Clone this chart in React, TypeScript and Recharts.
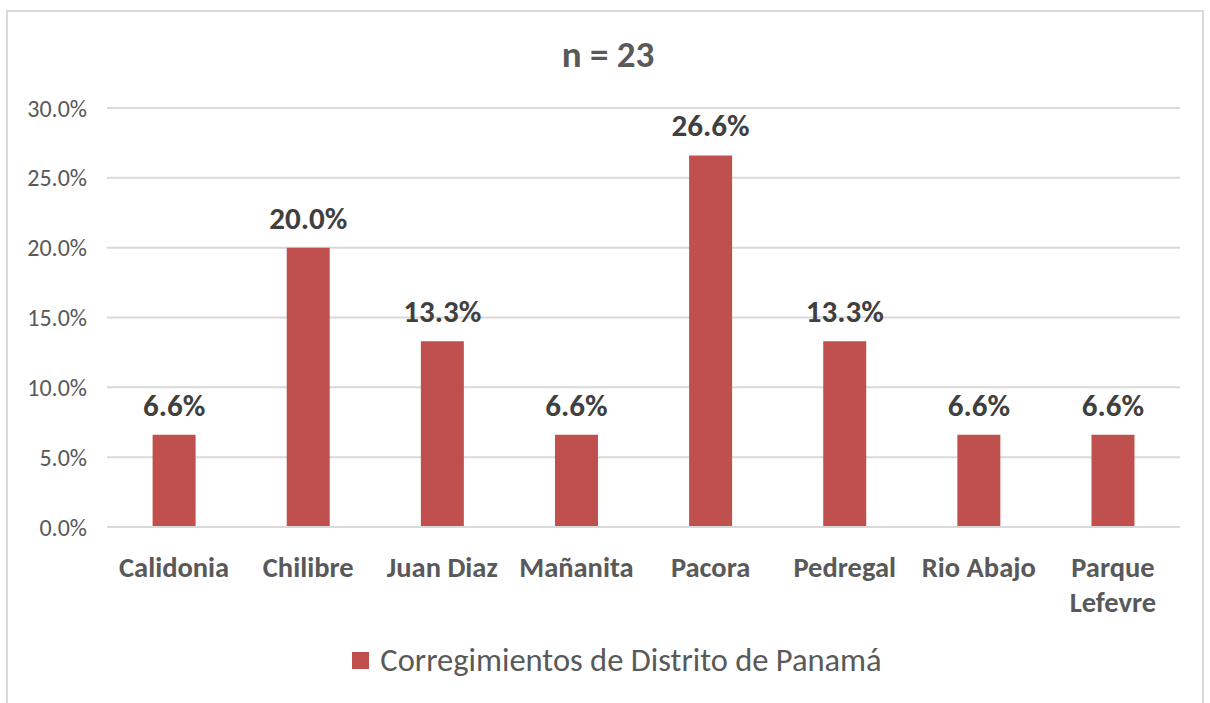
import React from 'react'
import { BarChart, Bar, XAxis, YAxis, CartesianGrid, Legend, LabelList } from 'recharts'

const categories = ['Calidonia', 'Chilibre', 'Juan Diaz', 'Mañanita', 'Pacora', 'Pedregal', 'Rio Abajo', 'Parque Lefevre']
const shares = [6.6, 20.0, 13.3, 6.6, 26.6, 13.3, 6.6, 6.6]
const yTicks = [0, 5, 10, 15, 20, 25, 30]
const seriesName = 'Corregimientos de Distrito de Panamá'
const title = 'n = 23'

const FONT = 'Carlito, Lato, sans-serif'
const BAR_COLOR = '#c0504d'

const data = categories.map((name, i) => ({ name, value: shares[i] }))

// category labels wrap onto two lines when they have two words and are long
const CategoryTick = ({ x, y, payload }: any) => {
  const words: string[] = payload.value.split(' ')
  const lines = payload.value.length > 10 && words.length > 1 ? words : [payload.value]
  return (
    <text x={x} y={y} textAnchor="middle" fill="#595959" fontFamily={FONT} fontWeight={700} fontSize={28.5}>
      {lines.map((line, i) => (
        <tspan key={i} x={x} dy={i === 0 ? 42 : 35}>{line}</tspan>
      ))}
    </text>
  )
}

const LegendContent = () => (
  <div style={{ display: 'flex', justifyContent: 'center', alignItems: 'center', fontFamily: FONT }}>
    <div style={{ width: 17, height: 17, background: BAR_COLOR, marginRight: 11 }} />
    <span style={{ fontSize: 32.5, color: '#595959' }}>{seriesName}</span>
  </div>
)

export default function App() {
  return (
    <div style={{ position: 'absolute', left: 0, top: 0, width: 1210, height: 703, background: '#fff', overflow: 'hidden' }}>
      <div
        style={{
          position: 'absolute', left: 6, top: 10, width: 1198, height: 720,
          border: '2px solid #d9d9d9', boxSizing: 'border-box',
        }}
      />
      <div
        style={{
          position: 'absolute', left: 0, top: 32, width: 1216, textAlign: 'center',
          fontFamily: FONT, fontWeight: 700, fontSize: 37, color: '#595959',
        }}
      >
        {title}
      </div>
      <div style={{ position: 'absolute', left: 0, top: 0 }}>
        <BarChart width={1210} height={703} data={data} margin={{ top: 108, right: 30, left: 27, bottom: 36 }} barCategoryGap="34%">
          <CartesianGrid vertical={false} stroke="#d9d9d9" strokeWidth={2} />
          <XAxis
            dataKey="name"
            axisLine={{ stroke: '#d9d9d9', strokeWidth: 2 }}
            tickLine={false}
            interval={0}
            height={100}
            tick={<CategoryTick />}
          />
          <YAxis
            width={80}
            domain={[0, 30]}
            ticks={yTicks}
            axisLine={false}
            tickLine={false}
            tickSize={0}
            tickMargin={20}
            tickFormatter={(v: number) => `${v.toFixed(1)}%`}
            tick={{ fill: '#595959', fontFamily: FONT, fontSize: 24 }}
          />
          <Legend content={<LegendContent />} wrapperStyle={{ top: 640, left: 8, width: 1218 }} />
          <Bar dataKey="value" name={seriesName} fill={BAR_COLOR} isAnimationActive={false}>
            <LabelList
              dataKey="value"
              position="top"
              offset={19}
              formatter={(v: number) => `${v.toFixed(1)}%`}
              fill="#404040"
              fontFamily={FONT}
              fontWeight={700}
              fontSize={31}
            />
          </Bar>
        </BarChart>
      </div>
    </div>
  )
}
